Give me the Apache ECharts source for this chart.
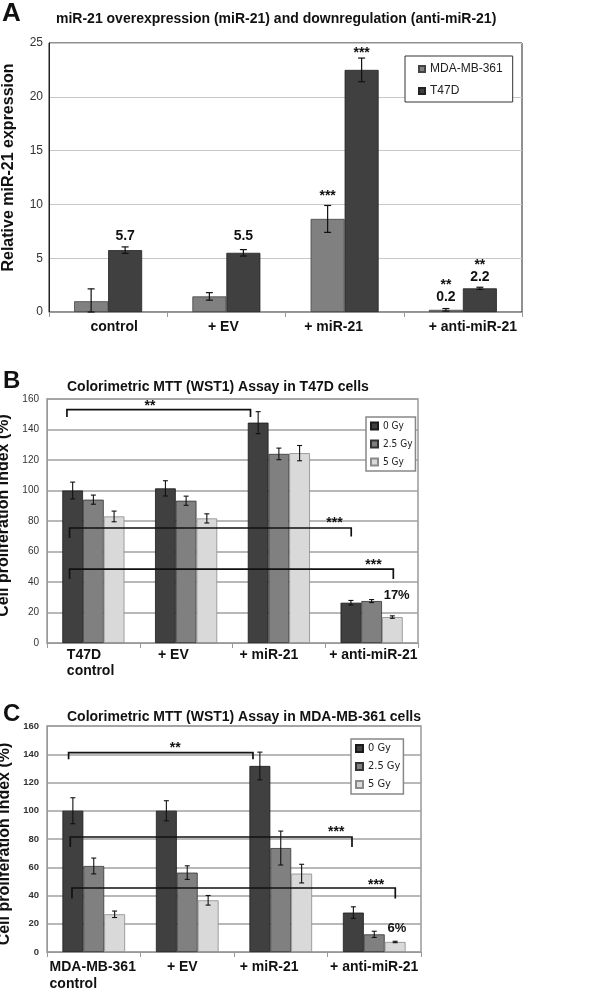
<!DOCTYPE html>
<html><head><meta charset="utf-8">
<script src="https://cdn.jsdelivr.net/npm/echarts@6/dist/echarts.min.js"></script>
<style>html,body{margin:0;padding:0;background:#fff}#c{width:600px;height:993px}</style>
</head><body><div id="c"></div>
<script>
// ---------- DATA ----------
// Panel A
const catsA = ['control', '+ EV', '+ miR-21', '+ anti-miR-21'];
const namesA = ['MDA-MB-361', 'T47D'];
const mdaA = [1.0, 1.45, 8.65, 0.2];
const mdaErrA = [1.15, 0.35, 1.25, 0.12];
const t47dA = [5.75, 5.5, 22.5, 2.2];
const t47dErrA = [0.3, 0.3, 1.1, 0.1];
const yTicksA = [0, 5, 10, 15, 20, 25];
// annotations: [text, category, series slot, y value]
const notesA = [['5.7', 0, 1, 7.08], ['5.5', 1, 1, 7.08], ['***', 2, 0, 10.77], ['***', 2, 1, 24.05],
                ['0.2', 3, 0, 1.42], ['**', 3, 0, 2.53], ['2.2', 3, 1, 3.28], ['**', 3, 1, 4.39]];

// Panel B (T47D)
const catsB = ['T47D\ncontrol', '+ EV', '+ miR-21', '+ anti-miR-21'];
const doses = ['0 Gy', '2.5 Gy', '5 Gy'];
const b0 = [100, 101.4, 144.5, 26.4];
const b0Err = [5.5, 5, 7.2, 1.5];
const b25 = [94, 93.3, 124, 27.5];
const b25Err = [3, 3, 3.8, 1];
const b5 = [83, 81.7, 124.5, 17];
const b5Err = [3.5, 3, 5, 0.8];
const yTicksB = [0, 20, 40, 60, 80, 100, 120, 140, 160];
// brackets: [x from, x to (category units), y line, y left end, y right end]
const bracketsB = [[-0.285, 1.694, 153, 148.2, 148.2], [-0.257, 2.78, 75.4, 68.9, 69.9], [-0.257, 3.234, 48.5, 42, 42]];
// texts: [text, x (category units), y]
const notesB = [['**', 0.61, 155], ['***', 2.6, 78.4], ['***', 3.02, 50.9], ['17%', 3.27, 31]];

// Panel C (MDA-MB-361)
const catsC = ['MDA-MB-361\ncontrol', '+ EV', '+ miR-21', '+ anti-miR-21'];
const c0 = [100, 100, 131.7, 27.9];
const c0Err = [9.2, 7.1, 9.8, 4.1];
const c25 = [60.9, 56.2, 73.6, 12.5];
const c25Err = [5.6, 4.8, 12, 2.2];
const c5 = [26.7, 36.6, 55.5, 7.1];
const c5Err = [2.3, 3.4, 6.6, 0.5];
const yTicksC = [0, 20, 40, 60, 80, 100, 120, 140, 160];
const bracketsC = [[-0.269, 1.703, 141.2, 136.4, 136.4], [-0.251, 2.762, 81.4, 74.3, 74.3], [-0.233, 3.225, 45.3, 37.8, 37.8]];
const notesC = [['**', 0.872, 144.2], ['***', 2.594, 84.8], ['***', 3.02, 47.5], ['6%', 3.243, 17]];

// ---------- LAYOUT / STYLE ----------
const FONT = '"Liberation Sans", Arial, Helvetica, sans-serif';
const NARROW = '"Liberation Sans Narrow", "Arial Narrow", "DejaVu Sans Condensed", "Liberation Sans", sans-serif';
const gapA = 0.425, gapB = 0.33, gapC = 0.33;
const nudgeA = [6, -3, -11, 10], nudgeB = [-2.8, -12.7, -10, 1.7], nudgeC = [-1, -5, -11.6, 0];

function slotX(idx, slot, n, gap) { return idx - (1 - gap) / 2 + (slot + 0.5) * (1 - gap) / n; }

function errData(vals, errs, slot, n, gap) {
  return vals.map((v, i) => [slotX(i, slot, n, gap), v, errs[i]]);
}

function errRender(capW, lw) {
  return function (params, api) {
    const x = api.value(0), v = api.value(1), e = api.value(2);
    const t = api.coord([x, v + e]);
    const b = api.coord([x, Math.max(0, v - e)]);
    const st = { stroke: '#111', lineWidth: lw };
    return { type: 'group', children: [
      { type: 'line', shape: { x1: t[0], y1: t[1], x2: b[0], y2: b[1] }, style: st },
      { type: 'line', shape: { x1: t[0] - capW / 2, y1: t[1], x2: t[0] + capW / 2, y2: t[1] }, style: st },
      { type: 'line', shape: { x1: b[0] - capW / 2, y1: b[1], x2: b[0] + capW / 2, y2: b[1] }, style: st }
    ]};
  };
}

function bracketRender(params, api) {
  const x1 = api.value(0), x2 = api.value(1), y = api.value(2), yl = api.value(3), yr = api.value(4);
  const a = api.coord([x1, yl]), b = api.coord([x1, y]), c = api.coord([x2, y]), d = api.coord([x2, yr]);
  return { type: 'polyline', shape: { points: [a, b, c, d] }, style: { stroke: '#111', lineWidth: 1.7, fill: null } };
}

function textRender(list, size) {
  return function (params, api) {
    const p = api.coord([api.value(0), api.value(1)]);
    const t = list[params.dataIndex];
    const pct = t.indexOf('%') >= 0;
    return { type: 'text', x: p[0], y: p[1], style: {
      text: t, fill: '#111', align: 'center', verticalAlign: 'middle',
      font: 'bold ' + (pct ? 13 : size) + 'px ' + FONT } };
  };
}

function catLabel(nudges, size, lh, margin) {
  const rich = {};
  nudges.forEach((s, i) => {
    rich['k' + i] = { fontSize: size, fontWeight: 'bold', fontFamily: FONT, color: '#111', lineHeight: lh,
      align: 'left', padding: s > 0 ? [0, 0, 0, 2 * s] : [0, -2 * s, 0, 0] };
  });
  return { interval: 0, margin: margin, lineHeight: lh,
    formatter: (v, i) => v.split('\n').map(t => '{k' + i + '|' + t + '}').join('\n'), rich: rich };
}

const grids = [
  { left: 49, right: 78, top: 43, height: 269, show: true, borderColor: '#222', borderWidth: 1, backgroundColor: '#fff' },
  { left: 47, right: 182, top: 399, height: 244, show: true, borderColor: '#999', borderWidth: 1.5, backgroundColor: '#fff' },
  { left: 47, right: 179, top: 726, height: 226, show: true, borderColor: '#999', borderWidth: 1.5, backgroundColor: '#fff' }
].map(g => Object.assign(g, { outerBoundsMode: 'none', containLabel: false }));

function catAxis(gi, cats, lab, lineColor) {
  return { type: 'category', gridIndex: gi, data: cats,
    axisLine: { show: true, onZero: false, lineStyle: { color: lineColor, width: 1 } },
    axisTick: { show: true, length: 5, lineStyle: { color: lineColor } },
    axisLabel: lab, splitLine: { show: false } };
}
function hiddenX(gi) { return { type: 'value', gridIndex: gi, min: -0.5, max: 3.5, show: false }; }
function valAxis(gi, ticks, name, gap, pad, lab, lineColor, splitColor, splitW) {
  return { type: 'value', gridIndex: gi, min: ticks[0], max: ticks[ticks.length - 1], interval: ticks[1] - ticks[0],
    name: name, nameLocation: 'middle', nameRotate: 90, nameGap: gap,
    nameTextStyle: { fontSize: 16, fontWeight: 'bold', fontFamily: FONT, color: '#111', padding: pad },
    axisLine: { show: true, onZero: false, lineStyle: { color: lineColor, width: 1 } },
    axisTick: { show: false },
    axisLabel: lab,
    splitLine: { show: true, lineStyle: { color: splitColor, width: splitW } } };
}

const barBorder = { '0 Gy': '#1a1a1a', '2.5 Gy': '#333', '5 Gy': '#8a8a8a' };
const barColor = { '0 Gy': '#404040', '2.5 Gy': '#808080', '5 Gy': '#d9d9d9' };

function bar(name, data, xi, yi, gap, color, border) {
  return { type: 'bar', name: name, data: data, xAxisIndex: xi, yAxisIndex: yi,
    barCategoryGap: (gap * 100) + '%', barGap: '0%',
    itemStyle: { color: color, borderColor: border, borderWidth: 0.8 }, z: 2 };
}
function errSeries(data, xi, yi, capW, lw) {
  return { type: 'custom', data: data, xAxisIndex: xi, yAxisIndex: yi, renderItem: errRender(capW, lw),
    encode: { x: 0, y: 1 }, clip: false, silent: true, z: 5 };
}

const series = [
  bar(namesA[0], mdaA, 0, 0, gapA, '#808080', '#444'),
  bar(namesA[1], t47dA, 0, 0, gapA, '#404040', '#222'),
  errSeries(errData(mdaA, mdaErrA, 0, 2, gapA), 3, 0, 7, 1.2),
  errSeries(errData(t47dA, t47dErrA, 1, 2, gapA), 3, 0, 7, 1.2),
  { type: 'custom', xAxisIndex: 3, yAxisIndex: 0, clip: false, silent: true, z: 6,
    data: notesA.map(n => [slotX(n[1], n[2], 2, gapA), n[3]]), encode: { x: 0, y: 1 },
    renderItem: textRender(notesA.map(n => n[0]), 14) },

  bar(doses[0], b0, 1, 1, gapB, barColor['0 Gy'], barBorder['0 Gy']),
  bar(doses[1], b25, 1, 1, gapB, barColor['2.5 Gy'], barBorder['2.5 Gy']),
  bar(doses[2], b5, 1, 1, gapB, barColor['5 Gy'], barBorder['5 Gy']),
  errSeries(errData(b0, b0Err, 0, 3, gapB), 4, 1, 5, 1.1),
  errSeries(errData(b25, b25Err, 1, 3, gapB), 4, 1, 5, 1.1),
  errSeries(errData(b5, b5Err, 2, 3, gapB), 4, 1, 5, 1.1),
  { type: 'custom', xAxisIndex: 4, yAxisIndex: 1, clip: false, silent: true, z: 6, data: bracketsB,
    encode: { x: [0, 1], y: 2 }, renderItem: bracketRender },
  { type: 'custom', xAxisIndex: 4, yAxisIndex: 1, clip: false, silent: true, z: 6,
    data: notesB.map(n => [n[1], n[2]]), encode: { x: 0, y: 1 }, renderItem: textRender(notesB.map(n => n[0]), 14) },

  bar(doses[0], c0, 2, 2, gapC, barColor['0 Gy'], barBorder['0 Gy']),
  bar(doses[1], c25, 2, 2, gapC, barColor['2.5 Gy'], barBorder['2.5 Gy']),
  bar(doses[2], c5, 2, 2, gapC, barColor['5 Gy'], barBorder['5 Gy']),
  errSeries(errData(c0, c0Err, 0, 3, gapC), 5, 2, 5, 1.1),
  errSeries(errData(c25, c25Err, 1, 3, gapC), 5, 2, 5, 1.1),
  errSeries(errData(c5, c5Err, 2, 3, gapC), 5, 2, 5, 1.1),
  { type: 'custom', xAxisIndex: 5, yAxisIndex: 2, clip: false, silent: true, z: 6, data: bracketsC,
    encode: { x: [0, 1], y: 2 }, renderItem: bracketRender },
  { type: 'custom', xAxisIndex: 5, yAxisIndex: 2, clip: false, silent: true, z: 6,
    data: notesC.map(n => [n[1], n[2]]), encode: { x: 0, y: 1 }, renderItem: textRender(notesC.map(n => n[0]), 14) }
];

const T = (text, left, top, size) => ({ text: text, left: left, top: top, padding: 0,
  textStyle: { fontSize: size, fontWeight: 'bold', fontFamily: FONT, color: '#111' } });

const option = {
  animation: false,
  backgroundColor: '#fff',
  textStyle: { fontFamily: FONT },
  title: [
    T('A', 2, 1, 26), T('miR-21 overexpression (miR-21) and downregulation (anti-miR-21)', 56, 12, 14),
    T('B', 3, 369, 24), T('Colorimetric MTT (WST1) Assay in T47D cells', 67, 380.5, 14),
    T('C', 3, 702, 24), T('Colorimetric MTT (WST1) Assay in MDA-MB-361 cells', 67, 710.5, 14)
  ],
  legend: [
    { data: namesA, orient: 'vertical', left: 405, top: 56, padding: [7, 10, 5, 13], itemWidth: 6, itemHeight: 6,
      itemGap: 10, icon: 'rect', borderColor: '#333', borderWidth: 1, backgroundColor: '#fff',
      textStyle: { fontSize: 12, color: '#222', fontFamily: FONT } },
    { data: doses, orient: 'vertical', left: 366, top: 417, padding: [4, 3, 4, 4], itemWidth: 7, itemHeight: 7,
      itemGap: 8, icon: 'rect', borderColor: '#888', borderWidth: 1.5, backgroundColor: '#fff',
      textStyle: { fontSize: 10, color: '#222', fontFamily: NARROW } },
    { data: doses, orient: 'vertical', left: 351, top: 739, padding: [4, 3, 4, 4], itemWidth: 7, itemHeight: 7,
      itemGap: 7, icon: 'rect', borderColor: '#888', borderWidth: 1.5, backgroundColor: '#fff',
      textStyle: { fontSize: 11, color: '#222', fontFamily: NARROW } }
  ],
  grid: grids,
  xAxis: [
    catAxis(0, catsA, catLabel(nudgeA, 14, 16, 7), '#999'),
    catAxis(1, catsB, catLabel(nudgeB, 14, 16, 4), '#999'),
    catAxis(2, catsC, catLabel(nudgeC, 14, 17, 7), '#999'),
    hiddenX(0), hiddenX(1), hiddenX(2)
  ],
  yAxis: [
    valAxis(0, yTicksA, 'Relative miR-21 expression', 32, [0, 0, 0, 20],
      { fontSize: 12, color: '#333', margin: 6, fontFamily: FONT }, '#222', '#c8c8c8', 1),
    valAxis(1, yTicksB, 'Cell proliferation index (%)', 30, [0, 0, 0, 11],
      { fontSize: 10, color: '#333', margin: 8, fontFamily: FONT }, '#999', '#a0a0a0', 1.5),
    valAxis(2, yTicksC, 'Cell proliferation index (%)', 30, [0, 10, 0, 0],
      { fontSize: 9.5, fontWeight: 'bold', color: '#333', margin: 8, fontFamily: FONT }, '#999', '#a0a0a0', 1.5)
  ],
  series: series
};

const chart = echarts.init(document.getElementById('c'), null, { renderer: 'canvas' });
chart.setOption(option);
</script>
</body></html>
